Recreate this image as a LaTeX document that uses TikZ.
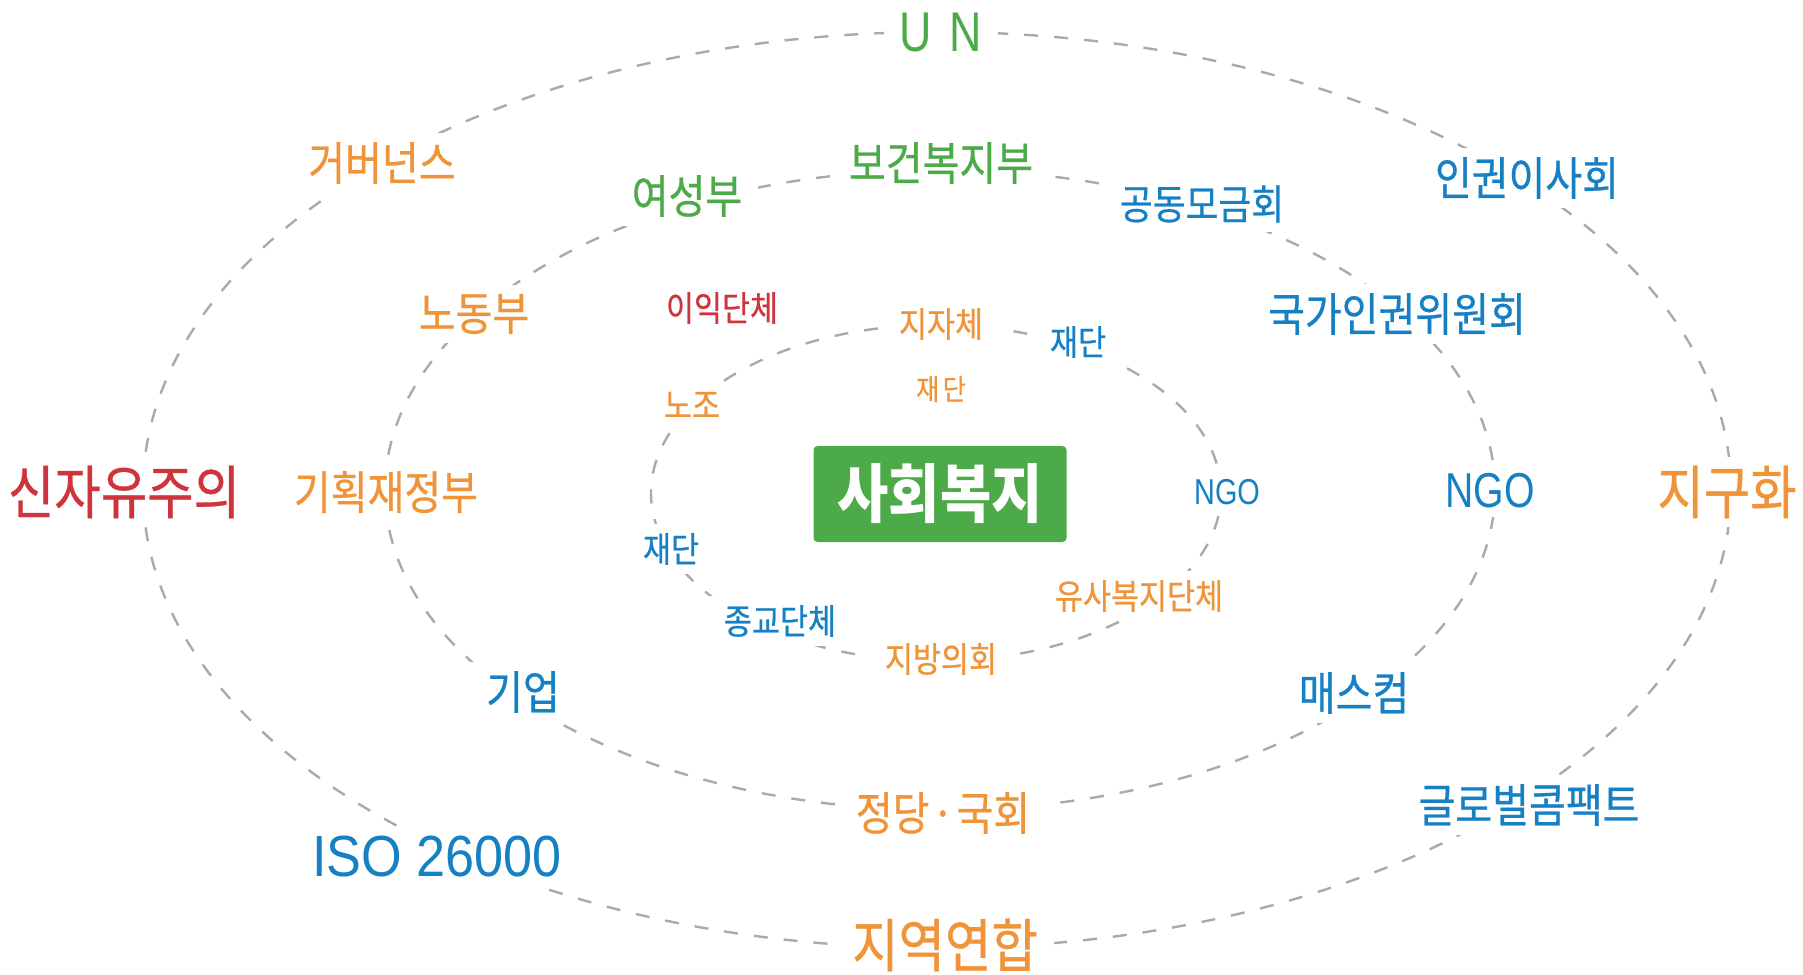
\documentclass[tikz,border=0pt]{standalone}
\usepackage{fontspec}
\newfontfamily\kr[FakeStretch=0.87,FakeBold=0.6]{Noto Sans CJK KR}
\newfontfamily\krb[FakeStretch=0.87]{Noto Sans CJK KR}
\newfontfamily\lat[FakeStretch=0.8]{Liberation Sans}
\newfontfamily\latw[FakeStretch=0.9]{Liberation Sans}
\definecolor{cgreen}{RGB}{76,170,72}
\definecolor{corange}{RGB}{240,148,58}
\definecolor{cblue}{RGB}{22,128,196}
\definecolor{cred}{RGB}{206,52,60}
\definecolor{cdash}{RGB}{170,170,170}
\tikzset{
  ring/.style={draw=cdash, line width=2.4pt, dash pattern=on 14pt off 16pt},
  lab/.style={fill=white, inner xsep=16pt, inner ysep=9pt},
  fxl/.style={font=\kr\fontsize{58}{60}\selectfont},
  fl/.style={font=\kr\fontsize{46}{48}\selectfont},
  fm/.style={font=\kr\fontsize{41}{44}\selectfont},
  fs/.style={font=\kr\fontsize{35}{38}\selectfont},
  fxs/.style={font=\kr\fontsize{29}{31}\selectfont},
}
\begin{document}
\begin{tikzpicture}[x=1pt,y=-1pt]
\fill[white] (0,0) rectangle (1803,974);
\useasboundingbox (0,0) rectangle (1803,974);
% rings
\draw[ring] (937,490) ellipse [x radius=794pt, y radius=458pt];
\draw[ring] (940,490) ellipse [x radius=555pt, y radius=320pt];
\draw[ring] (936,493) ellipse [x radius=285pt, y radius=168pt];
% outer ring labels
\node[lab,text=cgreen,font=\lat\fontsize{56}{58}\selectfont] (un) at (941,33) {U\hspace{0.32em}N};
\node[lab,fl,text=cblue] (inkwon) at (1527,178) {인권이사회};
\node[lab,fxl,text=corange] (jiguhwa) at (1727,492) {지구화};
\node[lab,fl,text=cblue] (global) at (1529,805) {글로벌콤팩트};
\node[lab,fxl,text=corange] (jiyeok) at (945,945) {지역연합};
\node[lab,text=cblue,font=\latw\fontsize{58}{60}\selectfont] (iso) at (437,857) {ISO 26000};
\node[lab,fxl,text=cred] (sinja) at (124,492) {신자유주의};
\node[lab,fl,text=corange] (gover) at (382,163) {거버넌스};
% middle ring labels
\node[lab,fl,text=cgreen] (bogeon) at (941,163) {보건복지부};
\node[lab,fl,text=cgreen] (yeoseong) at (687,196) {여성부};
\node[lab,fm,text=cblue] (gongdong) at (1202,204) {공동모금회};
\node[lab,fl,text=cblue] (gukga) at (1397,314) {국가인권위원회};
\node[lab,text=cblue,font=\lat\fontsize{49}{51}\selectfont] (ngo2) at (1490,491) {NGO};
\node[lab,fl,text=cblue] (mass) at (1354,693) {매스컴};
\node[lab,fl,text=corange] (jeongdang) at (943,813) {정당\hspace{0.05em}·\hspace{0.05em}국회};
\node[lab,fl,text=cblue] (gieop) at (523,692) {기업};
\node[lab,fl,text=corange] (gihoek) at (386,492) {기획재정부};
\node[lab,fl,text=corange] (nodong) at (474,314) {노동부};
% inner ring labels
\node[lab,fs,text=corange] (jijache) at (941,324) {지자체};
\node[lab,fs,text=cblue] (jaedan1) at (1078,342) {재단};
\node[lab,text=cblue,font=\lat\fontsize{36}{38}\selectfont] (ngo1) at (1227,492) {NGO};
\node[lab,fs,text=corange] (yusa) at (1139,596) {유사복지단체};
\node[lab,fs,text=corange] (jibang) at (941,659) {지방의회};
\node[lab,fs,text=cblue] (jonggyo) at (780,621) {종교단체};
\node[lab,fs,text=cblue] (jaedan2) at (671,549) {재단};
\node[lab,fs,text=corange] (nojo) at (692,405) {노조};
\node[lab,fs,text=cred] (iik) at (722,308) {이익단체};
\node[lab,fxs,text=corange] (jaedan3) at (941,389) {재\hspace{0.12em}단};
% centre
\node[fill=cgreen, rounded corners=4pt, minimum width=253pt, minimum height=96pt,
      text=white, font=\krb\bfseries\fontsize{64}{66}\selectfont] (center) at (940,494) {사회복지};
\end{tikzpicture}
\end{document}
